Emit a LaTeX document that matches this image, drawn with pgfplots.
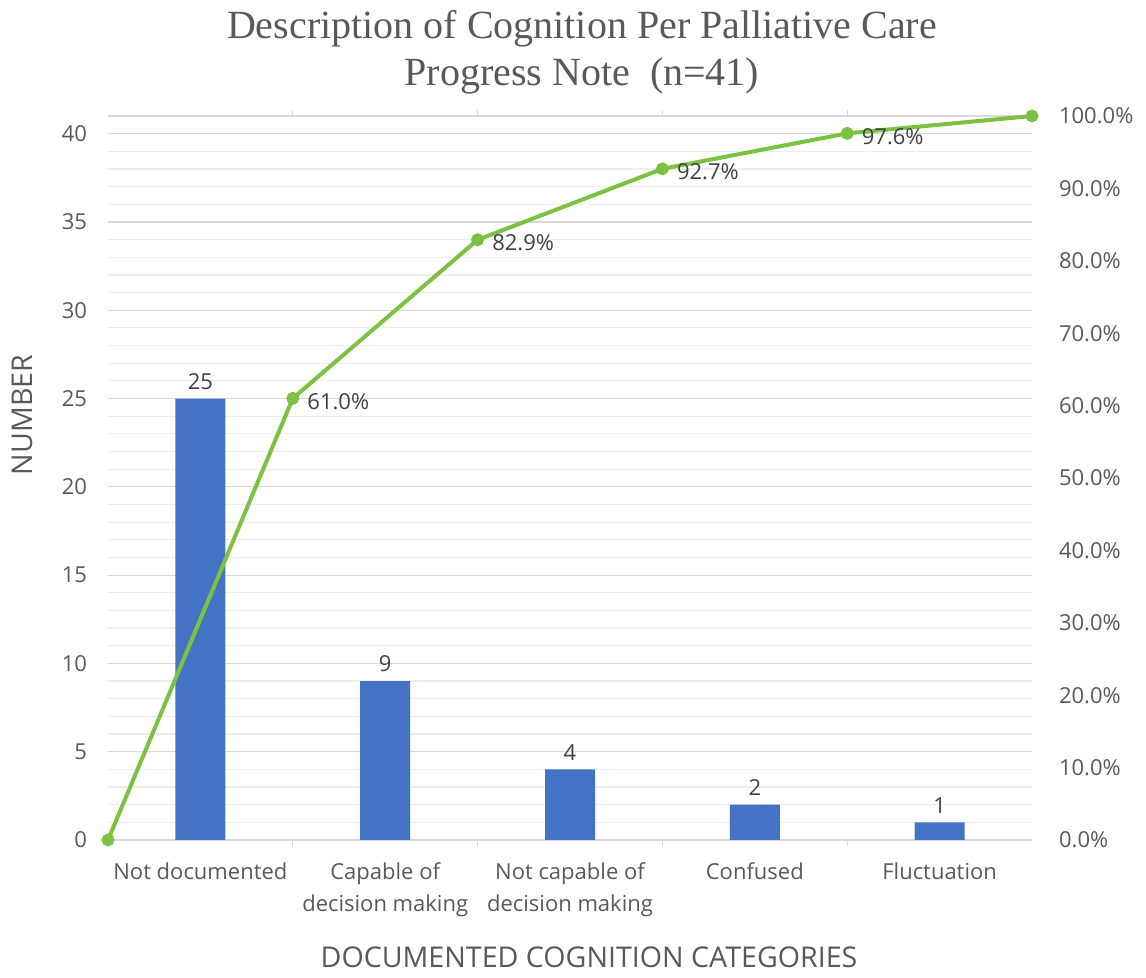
\documentclass[border=0pt]{standalone}
\usepackage{pgfplots}
\pgfplotsset{compat=1.18}
\usepackage{fontspec}
\setmainfont{Open Sans}
\newfontfamily\titlefont{Liberation Serif}
\definecolor{barblue}{HTML}{4472C4}
\definecolor{linegreen}{HTML}{7CC142}
\definecolor{tickgray}{HTML}{595959}
\definecolor{labgray}{HTML}{404040}
\definecolor{gridmaj}{HTML}{D9D9D9}
\definecolor{gridmin}{HTML}{EDEDED}
\begin{document}
\begin{tikzpicture}
\path[use as bounding box] (-54pt,-69pt) rectangle (519pt,420pt);
\begin{axis}[
  at={(0,0)}, anchor=south west, scale only axis, width=462pt, height=362pt,
  xmin=-0.5, xmax=4.5, ymin=0, ymax=41,
  xtick={0,1,2,3,4},
  xticklabels={Not documented, {Capable of\\decision making}, {Not capable of\\decision making}, Confused, Fluctuation},
  x tick label style={align=center, font=\fontsize{11}{16}\selectfont, text=tickgray, anchor=north, yshift=-8pt},
  ytick={0,5,...,40},
  minor ytick={0,...,41},
  extra y ticks={41}, extra y tick labels={},
  ymajorgrids, yminorgrids,
  major grid style={gridmaj, line width=0.6pt},
  minor grid style={gridmin, line width=0.6pt},
  y tick label style={text=tickgray, font=\fontsize{11}{13}\selectfont, xshift=-7pt},
  axis line style={draw=none}, tick style={draw=none},
  /pgf/number format/assume math mode=true,
  nodes near coords,
  every node near coord/.append style={font=\fontsize{11}{13}\selectfont, text=labgray, yshift=1pt},
]
\addplot[ybar, bar width=25pt, fill=barblue, draw=none] coordinates {(0,25) (1,9) (2,4) (3,2) (4,1)};
\end{axis}
\begin{axis}[
  at={(0,0)}, anchor=south west, scale only axis, width=462pt, height=362pt,
  xmin=-0.5, xmax=4.5, ymin=0, ymax=100,
  xtick={0.5,1.5,2.5,3.5}, xticklabels={},
  x tick style={color=gridmaj, line width=0.6pt}, major tick length=3pt, tick align=outside,
  ytick={0,10,...,100}, ytick pos=right, yticklabel pos=right,
  y tick style={draw=none},
  yticklabel={\pgfmathprintnumber[fixed,fixed zerofill,precision=1]{\tick}\%},
  y tick label style={text=tickgray, font=\fontsize{11}{13}\selectfont, xshift=7pt, anchor=west},
  /pgf/number format/assume math mode=true,
  axis line style={draw=none}, clip=false,
]
\addplot[color=linegreen, line width=2pt, mark=*, mark size=2.2pt,
  mark options={fill=linegreen, draw=linegreen},
  nodes near coords, point meta=explicit symbolic,
  every node near coord/.append style={anchor=west, xshift=3pt, yshift=-1.5pt, font=\fontsize{11}{13}\selectfont, text=labgray}]
  table[meta=lab] {
x y lab
-0.5 0 {}
0.5 61.0 61.0\%
1.5 82.9 82.9\%
2.5 92.7 92.7\%
3.5 97.6 97.6\%
4.5 100 {}
};
\end{axis}
\node[font=\titlefont\fontsize{20}{23.5}\selectfont, text=tickgray, align=center] at (237pt,394pt) {Description of Cognition Per Palliative Care\\Progress Note\ \ (n=41)};
\node[font=\fontsize{14.3}{16}\selectfont, text=tickgray] at (240.5pt,-58.5pt) {DOCUMENTED COGNITION CATEGORIES};
\node[rotate=90, font=\fontsize{14.3}{16}\selectfont, text=tickgray] at (-43pt,212.5pt) {NUMBER};
\end{tikzpicture}
\end{document}
